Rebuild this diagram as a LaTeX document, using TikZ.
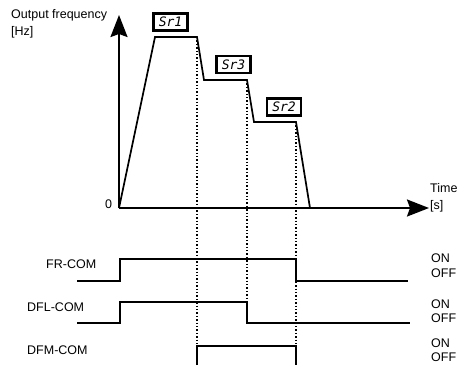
\documentclass[tikz,border=0pt]{standalone}
\usepackage{fontspec}
\setmainfont{Liberation Sans}
\newfontfamily\segfont{DejaVu Sans Mono}
\usetikzlibrary{arrows.meta,positioning}
\tikzset{
  ax/.style={line width=2pt, -{Stealth[length=22pt,width=17pt,inset=3pt]}},
  prof/.style={line width=1.7pt, line join=miter},
  dts/.style={line width=1.4pt, dotted},
  sig/.style={line width=1.7pt},
  seg/.style={draw, line width=2.2pt, inner sep=0pt, minimum width=34pt, minimum height=17pt, font=\segfont\itshape\fontsize{13}{13}\selectfont},
  lbl/.style={font=\fontsize{12.5}{15}\selectfont, inner sep=0pt, anchor=west}
}

\begin{document}
\begin{tikzpicture}[x=1pt,y=-1pt]
\useasboundingbox (0,0) rectangle (462,365);
\coordinate (o) at (119,208);
\coordinate (ytip) at (119,15);
\coordinate (xtip) at (429,208);
\coordinate (p1) at (155,37);
\coordinate (p2) at (197,37);
\coordinate (p3) at (204,80);
\coordinate (p4) at (247,80);
\coordinate (p5) at (254,122);
\coordinate (p6) at (296,122);
\coordinate (p7) at (310,208);
\draw[prof] (o) -- (p1) -- (p2) -- (p3) -- (p4) -- (p5) -- (p6) -- (p7);
\draw[ax] (o) -- (ytip);
\draw[ax] (o) -- (xtip);
\node[lbl] (yname) at (11,15) {Output frequency};
\node[lbl] (yunit) at (11,32) {[Hz]};
\node[lbl] (zero) at (105,204) {0};
\node[lbl] (xname) at (430,188) {Time};
\node[lbl] (xunit) at (430,206) {[s]};
\node[seg] (sr1) at (170.5,22) {Sr1};
\node[seg] (sr3) at (233.5,64.5) {Sr3};
\node[seg] (sr2) at (284,107) {Sr2};
% signals
\coordinate (fr0) at (77,281);   \coordinate (fr1) at (120,281);
\coordinate (fr2) at (120,259);  \coordinate (fr3) at (296,259);
\coordinate (fr4) at (296,281);  \coordinate (fr5) at (408,281);
\coordinate (dl0) at (77,323);   \coordinate (dl1) at (120,323);
\coordinate (dl2) at (120,302);  \coordinate (dl3) at (247,302);
\coordinate (dl4) at (247,323);  \coordinate (dl5) at (410,323);
\coordinate (dm0) at (197,365);  \coordinate (dm1) at (197,346);
\coordinate (dm2) at (296,346);  \coordinate (dm3) at (296,365);
\draw[dts] (p2) -- (dm0);
\draw[dts] (p4) -- (dl3);
\draw[dts] (p6) -- (dm3);
\draw[sig] (fr0) -- (fr1) -- (fr2) -- (fr3) -- (fr4) -- (fr5);
\draw[sig] (dl0) -- (dl1) -- (dl2) -- (dl3) -- (dl4) -- (dl5);
\draw[sig] (dm0) -- (dm1) -- (dm2) -- (dm3);
\node[lbl] (fr) at (46,264) {FR-COM};
\node[lbl] (dfl) at (27,307) {DFL-COM};
\node[lbl] (dfm) at (27,350) {DFM-COM};
\foreach \y/\z/\n in {258/273/a,304/318/b,343/357/c}{
  \node[lbl] (on\n) at (431,\y) {ON};
  \node[lbl] (off\n) at (431,\z) {OFF};
}
\end{tikzpicture}
\end{document}
